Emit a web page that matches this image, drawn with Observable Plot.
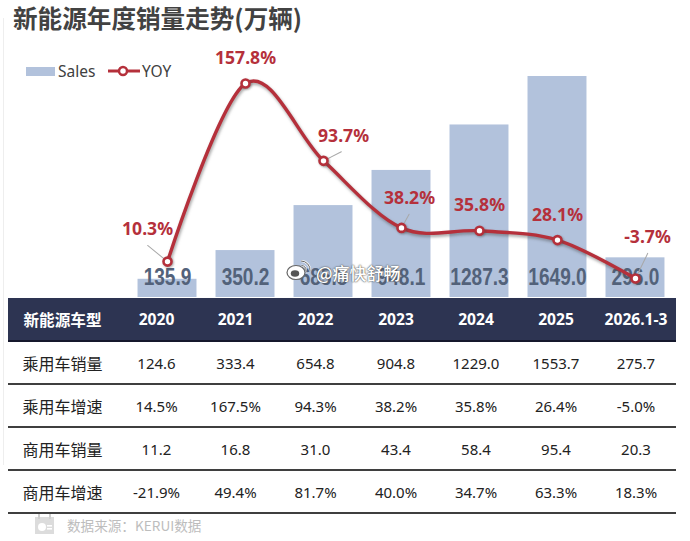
<!DOCTYPE html>
<html lang="zh">
<head>
<meta charset="utf-8">
<script src="https://cdn.jsdelivr.net/npm/d3@7"></script>
<script src="https://cdn.jsdelivr.net/npm/@observablehq/plot@0.6"></script>
<style>
html,body{margin:0;padding:0;background:#fff;}
#page{position:relative;width:690px;height:541px;overflow:hidden;font-family:"Noto Sans","Noto Sans CJK SC",sans-serif;}
#edge{position:absolute;left:3px;top:18px;width:1px;height:447px;background:#eeeeee;}
#title{position:absolute;left:13px;top:0px;font:700 24.6px/34px "Noto Sans CJK SC",sans-serif;color:#424242;white-space:nowrap;}
#chart{position:absolute;left:0;top:0;}
#chart svg{display:block;overflow:visible;background:transparent;}
#chart g[aria-label="line"]{filter:drop-shadow(1px 2px 1.5px rgba(70,70,70,.5));}
#chart g[aria-label="dot"]{filter:drop-shadow(1px 1px 1px rgba(70,70,70,.45));}
#legend{position:absolute;left:0;top:0;font-size:15.5px;color:#404040;}
#legend span{position:absolute;top:60px;line-height:22px;white-space:nowrap;}
#legend i{position:absolute;left:26px;top:67px;width:29px;height:9px;background:#b2c2dc;}
#legend svg{position:absolute;left:107px;top:63px;}
#tbl{position:absolute;left:8px;top:298px;width:668px;border-collapse:collapse;table-layout:fixed;color:#222;font-size:15px;}
#tbl th{height:42px;padding:0;background:#2d3452;color:#fff;font:700 15.6px "Noto Sans","Noto Sans CJK SC",sans-serif;text-align:center;border-bottom:2px solid #15182c;}
#tbl td{height:41px;padding:0;text-align:center;border-bottom:2px solid #3f3f3f;}
#tbl td:first-child{font:400 16px "Noto Sans CJK SC",sans-serif;color:#222;}
#wm{position:absolute;left:316px;top:262px;font:500 17px/22px "Noto Sans CJK SC",sans-serif;color:#fff;white-space:nowrap;text-shadow:0 0 2px #555,0 0 1px #555;}
#wmi{position:absolute;left:286px;top:259px;}
#srcicon{position:absolute;left:34px;top:514px;}
#src{position:absolute;left:67px;top:515px;font:400 13.6px/20px "Noto Sans CJK SC",sans-serif;color:#bdbdbd;white-space:nowrap;}
</style>
</head>
<body>
<div id="page">
  <div id="edge"></div>
  <div id="chart"></div>
  <div id="title">新能源年度销量走势(万辆)</div>
  <div id="legend">
    <i></i><span style="left:58px">Sales</span>
    <svg width="34" height="16"><line x1="1" y1="8" x2="33" y2="8" stroke="#b5303b" stroke-width="3"/><circle cx="16" cy="8" r="4" fill="#fff" stroke="#b5303b" stroke-width="2.5"/></svg>
    <span style="left:142px">YOY</span>
  </div>
  <table id="tbl"></table>
  <svg id="wmi" width="26" height="22" viewBox="0 0 26 22"><ellipse cx="10" cy="13.5" rx="9" ry="7" fill="#fff" stroke="#666" stroke-width="1.2"/><ellipse cx="9" cy="14.5" rx="4.2" ry="3.2" fill="#555"/><path d="M15 2a9 9 0 0 1 9 10M15.5 6.5a4.5 4.5 0 0 1 4.5 5" fill="none" stroke="#fff" stroke-width="2"/><path d="M15 2a9 9 0 0 1 9 10M15.5 6.5a4.5 4.5 0 0 1 4.5 5" fill="none" stroke="#666" stroke-width="1"/></svg>
  <div id="wm">@痛快舒畅</div>
  <svg id="srcicon" width="21" height="21" viewBox="0 0 21 21"><rect x="1" y="3" width="19" height="17" fill="#dcdcdc"/><rect x="4" y="0" width="2" height="5" fill="#cfcfcf"/><rect x="15" y="0" width="2" height="5" fill="#cfcfcf"/><circle cx="8" cy="13" r="4" fill="#fff"/><rect x="13" y="11" width="5" height="1.6" fill="#fff"/><rect x="13" y="14" width="5" height="1.6" fill="#fff"/></svg>
  <div id="src">数据来源：KERUI数据</div>
</div>
<script>
const categories = ["2020","2021","2022","2023","2024","2025","2026.1-3"];
const sales = [135.9,350.2,685.8,948.1,1287.3,1649.0,296.0];
const yoy = [10.3,157.8,93.7,38.2,35.8,28.1,-3.7];
const rowNames = ["乘用车销量","乘用车增速","商用车销量","商用车增速"];
const passengerSales = ["124.6","333.4","654.8","904.8","1229.0","1553.7","275.7"];
const passengerGrowth = ["14.5%","167.5%","94.3%","38.2%","35.8%","26.4%","-5.0%"];
const commercialSales = ["11.2","16.8","31.0","43.4","58.4","95.4","20.3"];
const commercialGrowth = ["-21.9%","49.4%","81.7%","40.0%","34.7%","63.3%","18.3%"];
const labelOffsets = [[-20,-32],[0,-25],[20,-25],[8,-30],[0,-25],[0,-25],[12,-41]];
const leaders = [[25.6,-51],null,[20,63],[15.7,29],null,null,[28,26]];

const rows = categories.map((c,i)=>({c,s:sales[i],y:yoy[i]}));
const RED = "#b5303b";
// second axis: YOY values placed on the sales scale
const yoyToSales = d3.scaleLinear([-3.7,157.8],[141.8,1597]);
const yy = d => yoyToSales(d.y);

const marks = [
  Plot.barY(rows,{x:"c",y:"s",fill:"#b2c2dc"}),
  Plot.text(rows,{x:"c",text:d=>d.s.toFixed(1),frameAnchor:"bottom",dy:-13,lineAnchor:"bottom",
    fill:"#53627a",fontSize:23,fontWeight:700,fontFamily:"'Liberation Sans',sans-serif",
    className:"barval"}),
  Plot.line(rows,{x:"c",y:yy,stroke:RED,strokeWidth:3.4,curve:"cardinal",tension:0}),
];
rows.forEach((d,i)=>{
  if(leaders[i]) marks.push(Plot.vector([d],{x:"c",y:yy,length:leaders[i][0],rotate:leaders[i][1],anchor:"start",
    stroke:"#a8a8a8",strokeWidth:1,shape:{draw(ctx,l){ctx.moveTo(0,0);ctx.lineTo(0,-l);}}}));
});
marks.push(Plot.dot(rows,{x:"c",y:yy,r:4,fill:"#fff",stroke:RED,strokeWidth:2.6}));
rows.forEach((d,i)=>{
  marks.push(Plot.text([d],{x:"c",y:yy,text:e=>e.y.toFixed(1)+"%",dx:labelOffsets[i][0],dy:labelOffsets[i][1],
    fill:RED,fontSize:17.6,fontWeight:700,fontFamily:"'Noto Sans',sans-serif"}));
});

const plot = Plot.plot({
  width:690,height:298,marginLeft:118.5,marginRight:6.5,marginTop:0,marginBottom:1,
  x:{domain:categories,padding:0.244,axis:null,round:false},
  y:{domain:[0,2216],axis:null},
  marks
});
document.getElementById("chart").append(plot);
// condensed look of the bar value labels
plot.querySelectorAll(".barval text").forEach(t=>{
  t.setAttribute("textLength",t.getComputedTextLength()*0.83);
  t.setAttribute("lengthAdjust","spacingAndGlyphs");
});

const widths=[109,79,79,81,80,80,80,80];
const tbl=d3.select("#tbl");
tbl.append("colgroup").selectAll("col").data(widths).join("col").style("width",d=>d+"px");
tbl.append("tr").selectAll("th").data(["新能源车型",...categories]).join("th").text(d=>d);
[passengerSales,passengerGrowth,commercialSales,commercialGrowth].forEach((r,i)=>{
  tbl.append("tr").selectAll("td").data([rowNames[i],...r]).join("td").text(d=>d);
});
</script>
</body>
</html>
